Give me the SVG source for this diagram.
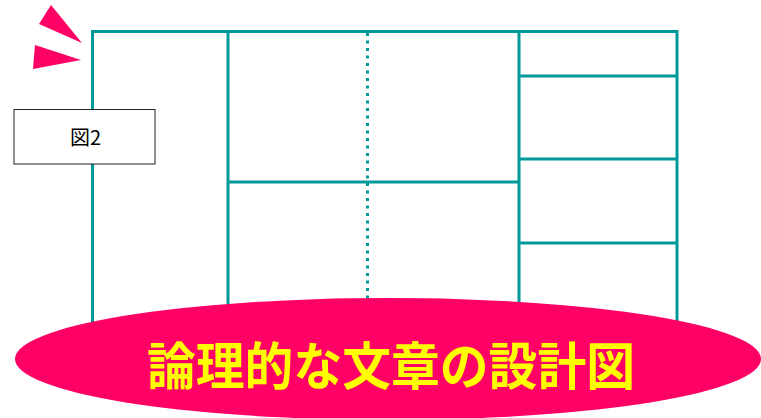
<svg xmlns="http://www.w3.org/2000/svg" width="761" height="418" viewBox="0 0 761 418">
<style>
.ln{stroke:#009999;stroke-width:3;fill:none}
.dot{stroke:#009999;stroke-width:3;stroke-dasharray:3 4.5;fill:none}
.tri{fill:#FF0066}
</style>
<rect width="761" height="418" fill="#fff"/>
<g id="connectors">
<polygon class="tri" points="51,5 82,43 39,24"/>
<polygon class="tri" points="35,45 81,60 33,69"/>
</g>
<g id="frame">
<rect class="ln" x="92.5" y="31.5" width="584.5" height="300"/>
<line class="ln" x1="228" y1="31.5" x2="228" y2="331"/>
<line class="ln" x1="519" y1="31.5" x2="519" y2="331"/>
<line class="dot" x1="367.5" y1="33" x2="367.5" y2="300"/>
<line class="ln" x1="228" y1="182" x2="519" y2="182"/>
<line class="ln" x1="519" y1="76" x2="677" y2="76"/>
<line class="ln" x1="519" y1="159" x2="677" y2="159"/>
<line class="ln" x1="519" y1="243" x2="677" y2="243"/>
</g>
<g id="label">
<rect x="14" y="109.5" width="141" height="54.5" fill="#fff" stroke="#222" stroke-width="1"/>
<text x="85.5" y="145" font-family="'Noto Sans CJK JP', 'Noto Sans', sans-serif" font-size="20" text-anchor="middle" fill="#000">図2</text>
</g>
<g id="title">
<ellipse cx="388" cy="359" rx="373" ry="61" fill="#FF0066"/>
<text x="391" y="385" font-family="'Noto Sans CJK JP', sans-serif" font-weight="bold" font-size="51" text-anchor="middle" fill="#FFFF00" textLength="488" lengthAdjust="spacingAndGlyphs">論理的な文章の設計図</text>
</g>
</svg>
